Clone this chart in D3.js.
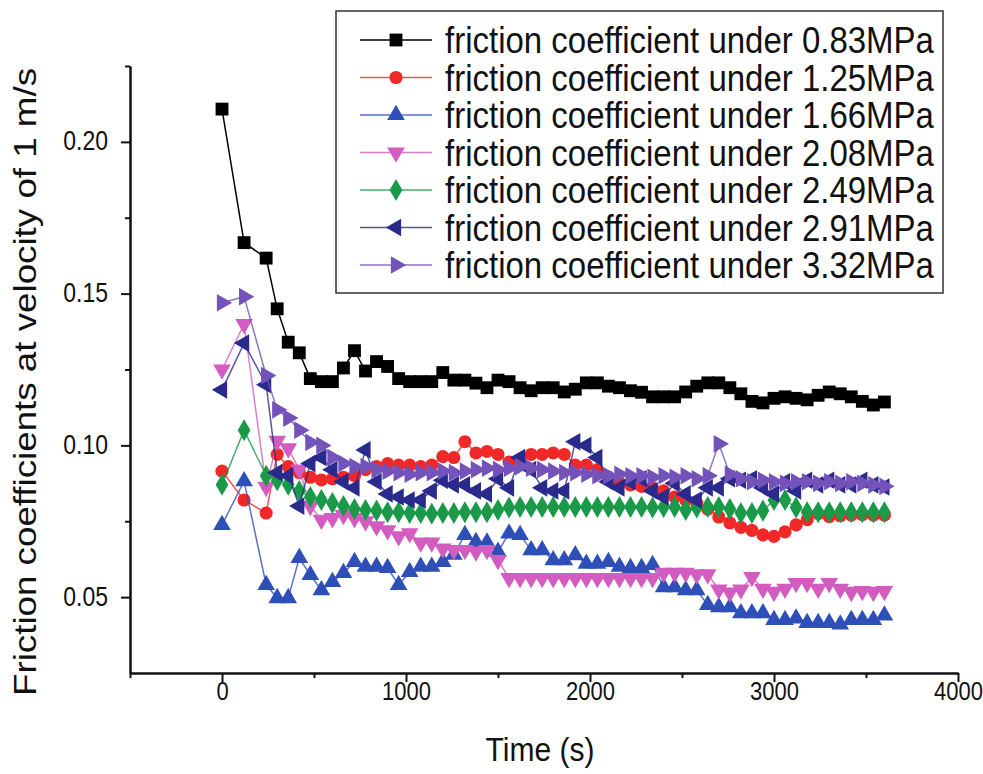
<!DOCTYPE html>
<html>
<head>
<meta charset="utf-8">
<script src="https://cdnjs.cloudflare.com/ajax/libs/d3/7.8.5/d3.min.js"></script>
<style>
  body { margin: 0; background: #fff; }
  text { font-family: "Liberation Sans", Arial, sans-serif; fill: #111; }
</style>
</head>
<body>
<div id="chart"></div>
<script>
const times = [0, 120, 240, 300, 360, 420, 480, 540, 600, 660,
  720, 780, 840, 900, 960, 1020, 1080, 1140, 1200, 1260,
  1320, 1380, 1440, 1500, 1560, 1620, 1680, 1740, 1800, 1860,
  1920, 1980, 2040, 2100, 2160, 2220, 2280, 2340, 2400, 2460,
  2520, 2580, 2640, 2700, 2760, 2820, 2880, 2940, 3000, 3060,
  3120, 3180, 3240, 3300, 3360, 3420, 3480, 3540, 3600];

const mu083 = [0.2108, 0.1668, 0.1617, 0.145, 0.134, 0.1305, 0.122, 0.121, 0.121, 0.1255,
  0.1312, 0.1245, 0.1276, 0.126, 0.122, 0.121, 0.121, 0.121, 0.124, 0.1215,
  0.1215, 0.1205, 0.119, 0.1215, 0.121, 0.119, 0.118, 0.119, 0.119, 0.1176,
  0.1185, 0.1206, 0.1206, 0.1195, 0.119, 0.118, 0.1175, 0.116, 0.116, 0.116,
  0.1176, 0.1195, 0.1206, 0.1206, 0.119, 0.117, 0.1145, 0.114, 0.1155, 0.116,
  0.1155, 0.115, 0.1165, 0.1176, 0.117, 0.116, 0.1145, 0.1133, 0.1143];

const mu125 = [0.0915, 0.082, 0.0777, 0.097, 0.093, 0.091, 0.0895, 0.0886, 0.089, 0.0895,
  0.090, 0.092, 0.093, 0.094, 0.0935, 0.0935, 0.093, 0.0935, 0.0963, 0.096,
  0.1012, 0.0975, 0.098, 0.097, 0.0945, 0.095, 0.097, 0.097, 0.0975, 0.097,
  0.0935, 0.0935, 0.092, 0.0896, 0.0876, 0.087, 0.0865, 0.086, 0.085, 0.083,
  0.082, 0.081, 0.079, 0.0764, 0.0745, 0.073, 0.072, 0.0705, 0.070, 0.0715,
  0.0738, 0.0755, 0.0775, 0.0765, 0.0768, 0.077, 0.0772, 0.077, 0.077];

const mu166 = [0.0738, 0.0882, 0.054, 0.0497, 0.0497, 0.0629, 0.0573, 0.0523, 0.055, 0.058,
  0.0616, 0.060, 0.060, 0.0596, 0.054, 0.0583, 0.060, 0.060, 0.0616, 0.064,
  0.0705, 0.0682, 0.068, 0.065, 0.071, 0.0705, 0.0655, 0.0655, 0.0622, 0.0622,
  0.0638, 0.061, 0.061, 0.0616, 0.060, 0.0596, 0.0596, 0.0606, 0.0533, 0.0533,
  0.0523, 0.0523, 0.0474, 0.0467, 0.0467, 0.0447, 0.0447, 0.0447, 0.0425, 0.0425,
  0.043, 0.0415, 0.0415, 0.0415, 0.041, 0.0425, 0.0425, 0.0425, 0.044];

const mu208 = [0.125, 0.140, 0.0863, 0.1015, 0.099, 0.092, 0.080, 0.0755, 0.076, 0.077,
  0.076, 0.075, 0.0733, 0.072, 0.070, 0.071, 0.068, 0.068, 0.066, 0.0655,
  0.0655, 0.065, 0.0655, 0.0622, 0.0563, 0.0563, 0.0563, 0.0563, 0.0563, 0.0563,
  0.0563, 0.0563, 0.0563, 0.0563, 0.0563, 0.0563, 0.0563, 0.0563, 0.058, 0.058,
  0.058, 0.0575, 0.0575, 0.0525, 0.0515, 0.0525, 0.0566, 0.0527, 0.0517, 0.0527,
  0.0546, 0.0546, 0.0527, 0.0546, 0.0527, 0.0517, 0.052, 0.0517, 0.052];

const mu249 = [0.087, 0.105, 0.090, 0.0885, 0.087, 0.085, 0.083, 0.082, 0.081, 0.080,
  0.079, 0.0787, 0.0785, 0.078, 0.078, 0.0777, 0.0777, 0.0775, 0.0777, 0.0777,
  0.078, 0.078, 0.078, 0.0787, 0.0795, 0.0797, 0.0797, 0.0797, 0.0797, 0.0797,
  0.0797, 0.0797, 0.0797, 0.0797, 0.0797, 0.0797, 0.0797, 0.0795, 0.0797, 0.0797,
  0.0787, 0.0795, 0.0797, 0.0797, 0.079, 0.0777, 0.0777, 0.0785, 0.082, 0.082,
  0.0795, 0.078, 0.078, 0.078, 0.078, 0.078, 0.078, 0.078, 0.078];

const mu291 = [0.1183, 0.1337, 0.120, 0.091, 0.090, 0.080, 0.094, 0.096, 0.092, 0.088,
  0.086, 0.0985, 0.088, 0.084, 0.083, 0.082, 0.082, 0.085, 0.0885, 0.087,
  0.087, 0.085, 0.084, 0.089, 0.086, 0.096, 0.092, 0.086, 0.085, 0.085,
  0.1012, 0.100, 0.096, 0.088, 0.086, 0.088, 0.089, 0.085, 0.083, 0.0875,
  0.084, 0.082, 0.086, 0.086, 0.089, 0.0885, 0.089, 0.086, 0.084, 0.088,
  0.085, 0.0885, 0.087, 0.0885, 0.087, 0.087, 0.0885, 0.087, 0.0863];

const mu332 = [0.147, 0.149, 0.123, 0.1117, 0.109, 0.105, 0.101, 0.100, 0.096, 0.094,
  0.093, 0.093, 0.092, 0.0915, 0.091, 0.0905, 0.091, 0.091, 0.0915, 0.091,
  0.0915, 0.092, 0.0925, 0.092, 0.0925, 0.093, 0.0925, 0.092, 0.0915, 0.091,
  0.091, 0.0905, 0.090, 0.090, 0.0905, 0.090, 0.090, 0.0895, 0.090, 0.0895,
  0.090, 0.089, 0.090, 0.1005, 0.0905, 0.089, 0.088, 0.0885, 0.088, 0.0875,
  0.088, 0.088, 0.0875, 0.088, 0.0875, 0.088, 0.0875, 0.087, 0.0865];

const seriesNames = [
  "friction coefficient under 0.83MPa",
  "friction coefficient under 1.25MPa",
  "friction coefficient under 1.66MPa",
  "friction coefficient under 2.08MPa",
  "friction coefficient under 2.49MPa",
  "friction coefficient under 2.91MPa",
  "friction coefficient under 3.32MPa"
];
const seriesValues = [mu083, mu125, mu166, mu208, mu249, mu291, mu332];

const xTicksMajor = [0, 1000, 2000, 3000, 4000];
const xTicksMinor = [-500, 500, 1500, 2500, 3500];
const yTicksMajor = [0.05, 0.10, 0.15, 0.20];
const yTicksMinor = [0.075, 0.125, 0.175, 0.225];

const colors = ["#000000", "#f02828", "#2f4fb8", "#d35cc0", "#1a9a48", "#2a2a8c", "#7352ba"];
// marker: [symbol type, rotation, area]
const markers = [
  [d3.symbolSquare, 0, 165],
  [d3.symbolCircle, 0, 135],
  [d3.symbolTriangle, 0, 135],
  [d3.symbolTriangle, 180, 135],
  [d3.symbolDiamond, 0, 140],
  [d3.symbolTriangle, -90, 135],
  [d3.symbolTriangle, 90, 135]
];

const width = 983, height = 774;
const svg = d3.select("#chart").append("svg")
  .attr("width", width)
  .attr("height", height);

const x = d3.scaleLinear().domain([-500, 4000]).range([130, 958]);
const y = d3.scaleLinear().domain([0.025, 0.225]).range([673, 66]);

// series
const line = d3.line().x(d => x(d.t)).y(d => y(d.v));

seriesValues.forEach((vals, i) => {
  const pts = times.map((t, j) => ({ t: t, v: vals[j] }));
  const g = svg.append("g").attr("class", "series");
  g.append("path")
    .datum(pts)
    .attr("d", line)
    .attr("fill", "none")
    .attr("stroke", colors[i])
    .attr("stroke-opacity", i === 0 ? 1 : 0.8)
    .attr("stroke-width", 1.5);
  const sym = d3.symbol().type(markers[i][0]).size(markers[i][2]);
  g.selectAll("path.m")
    .data(pts)
    .enter()
    .append("path")
    .attr("class", "m")
    .attr("d", sym)
    .attr("transform", d => `translate(${x(d.t)},${y(d.v)}) rotate(${markers[i][1]})`)
    .attr("fill", colors[i]);
});

// axes
const xAxis = svg.append("g").attr("transform", "translate(0,673)");
xAxis.call(d3.axisBottom(x).tickValues(xTicksMajor).tickSize(9).tickFormat(d3.format("d")).tickSizeOuter(0));
xAxis.append("g").call(d3.axisBottom(x).tickValues(xTicksMinor).tickSize(5).tickFormat("").tickSizeOuter(0));

const yAxis = svg.append("g").attr("transform", "translate(130,0)");
yAxis.call(d3.axisLeft(y).tickValues(yTicksMajor).tickSize(9).tickFormat(d3.format(".2f")).tickSizeOuter(0));
yAxis.append("g").call(d3.axisLeft(y).tickValues(yTicksMinor).tickSize(5).tickFormat("").tickSizeOuter(0));

svg.selectAll(".domain").attr("stroke", "#111").attr("stroke-width", 2);
svg.selectAll(".tick line").attr("stroke", "#111").attr("stroke-width", 2);

// tick labels look vertically stretched in the original, so scale them a bit in y
xAxis.selectAll(".tick text")
  .style("font-size", "22px")
  .attr("fill", "#222")
  .attr("y", 0)
  .attr("dy", 0)
  .attr("transform", "translate(0,27) scale(1,1.2)");
yAxis.selectAll(".tick text")
  .style("font-size", "23px")
  .attr("fill", "#222")
  .attr("x", -22)
  .attr("dy", 0)
  .attr("transform", "translate(0,8) scale(1,1.2)");

svg.append("text")
  .attr("transform", "translate(540,761) scale(1,1.1)")
  .attr("text-anchor", "middle")
  .style("font-size", "30px")
  .text("Time (s)");

svg.append("text")
  .attr("transform", "translate(36,382) rotate(-90)")
  .attr("text-anchor", "middle")
  .style("font-size", "32px")
  .attr("textLength", 628)
  .attr("lengthAdjust", "spacingAndGlyphs")
  .text("Friction coefficients at velocity of 1 m/s");

// legend
const legend = svg.append("g");
legend.append("rect")
  .attr("x", 336)
  .attr("y", 11)
  .attr("width", 607)
  .attr("height", 282)
  .attr("fill", "#fff")
  .attr("stroke", "#333")
  .attr("stroke-width", 1.5);

seriesNames.forEach((name, i) => {
  const ly = 40 + i * 37.5;
  legend.append("line")
    .attr("x1", 360).attr("x2", 432)
    .attr("y1", ly).attr("y2", ly)
    .attr("stroke", colors[i])
    .attr("stroke-opacity", i === 0 ? 1 : 0.8)
    .attr("stroke-width", 1.5);
  legend.append("path")
    .attr("d", d3.symbol().type(markers[i][0]).size(markers[i][2])())
    .attr("transform", `translate(396,${ly}) rotate(${markers[i][1]})`)
    .attr("fill", colors[i]);
  legend.append("text")
    .attr("transform", `translate(445,${ly + 13}) scale(1,1.1)`)
    .style("font-size", "33px")
    .text(name);
});
</script>
</body>
</html>
